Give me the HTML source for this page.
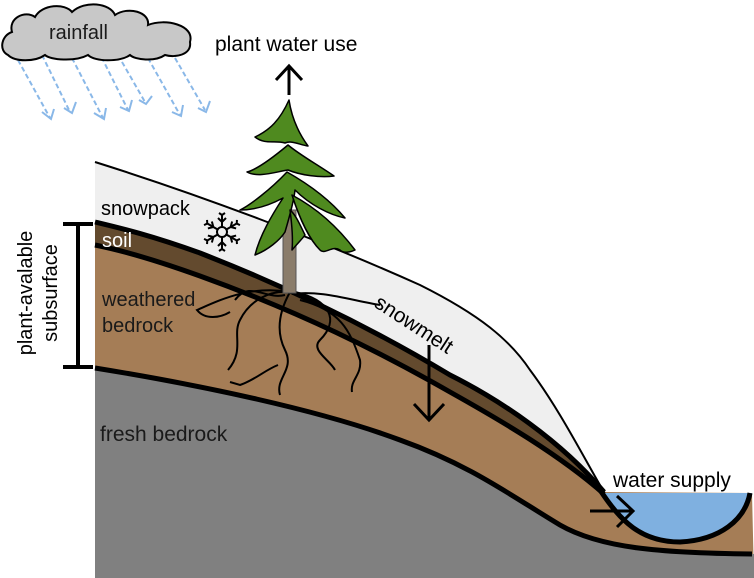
<!DOCTYPE html>
<html><head><meta charset="utf-8"><style>
html,body{margin:0;padding:0;background:#fff;}
svg{display:block;font-family:"Liberation Sans","DejaVu Sans",sans-serif;}
</style></head><body>
<svg width="754" height="578" viewBox="0 0 754 578" xmlns="http://www.w3.org/2000/svg">
<path d="M95,162 C200,195 320,240 420,285 C480,315 510,340 530,370 C560,410 585,460 604,492 L600,490 C560,440 500,400 450,375 C380,333 300,292 200,253 C150,235 120,228 95,222 Z" fill="#efefef"/>
<path d="M95,162 C200,195 320,240 420,285 C480,315 510,340 530,370 C560,410 585,460 604,492" fill="none" stroke="#000" stroke-width="2"/>
<path d="M95,222 C120,228 150,235 200,253 C300,292 380,333 450,375 C500,400 560,440 604,492 L752,493 L754,578 L95,578 Z" fill="#a57d56"/>
<path d="M95,222 C120,228 150,235 200,253 C300,292 380,333 450,375 C500,400 560,440 604,492 C560,455 500,420 450,392 C380,352 300,312 200,276 C150,258 120,250 95,245 Z" fill="#634a2e"/>
<path d="M95,222 C120,228 150,235 200,253 C300,292 380,333 450,375 C500,400 560,440 604,492" fill="none" stroke="#000" stroke-width="5"/>
<path d="M95,245 C120,250 150,258 200,276 C300,312 380,352 450,392 C500,420 560,455 604,494" fill="none" stroke="#000" stroke-width="5"/>
<path d="M95,368 C200,385 320,410 400,440 C470,465 510,495 560,525 C600,548 660,553 754,554 L754,578 L95,578 Z" fill="#808080"/>
<path d="M95,368 C200,385 320,410 400,440 C470,465 510,495 560,525 C600,548 660,553 752,554" fill="none" stroke="#000" stroke-width="5"/>
<path d="M605,493 L752,493 C748,520 720,540 680,542 C640,542 620,520 605,493 Z" fill="#7fb0e0"/>
<path d="M600,490 C620,520 640,542 680,542 C720,540 745,520 750,493" fill="none" stroke="#000" stroke-width="5"/>
<path d="M590,511 L632,511 M617,496 L633,511 L617,527" fill="none" stroke="#000" stroke-width="3"/>
<text x="613" y="487" font-size="21">water supply</text>
<text x="0" y="0" font-size="21" transform="translate(373,306) rotate(33)">snowmelt</text>
<path d="M429,345 L429,418 M414,404 L429,420 L444,404" fill="none" stroke="#000" stroke-width="3"/>
<g fill="none" stroke="#000" stroke-width="2">
<path d="M290,292 C270,290 250,300 240,320 C232,335 245,350 228,370"/>
<path d="M290,292 C280,310 275,330 285,350 C295,370 275,378 280,395"/>
<path d="M285,295 C265,300 250,280 235,300 M290,292 C250,285 220,300 197,310 C205,320 220,318 230,312"/>
<path d="M278,365 C265,370 255,380 240,385 L230,382"/>
<path d="M295,292 C330,300 340,320 320,340 C310,350 330,360 335,370"/>
<path d="M300,300 C340,310 350,330 360,360 C362,375 350,380 352,392"/>
<path d="M292,294 C320,290 350,300 380,305"/>
</g>
<rect x="283" y="210" width="13" height="83" fill="#8a7c6a" stroke="#555" stroke-width="1"/>
<g fill="#4f8a1f" stroke="#000" stroke-width="1.5" stroke-linejoin="round">
<path d="M289,100 C280,120 270,130 255,137 C265,145 275,140 285,143 C292,140 300,145 308,146 C300,135 292,120 289,100 Z"/>
<path d="M288,145 C270,160 255,170 247,172 C258,178 275,172 288,170 C300,175 320,178 334,176 C318,165 300,155 288,145 Z"/>
<path d="M287,172 C270,190 250,205 240,210 C255,210 270,205 283,198 C272,215 260,235 255,255 C268,250 280,240 285,232 C290,215 294,200 295,190 C310,205 330,215 345,218 C330,200 310,185 287,172 Z"/>
<path d="M292,195 C300,220 310,240 320,250 C325,255 332,245 340,250 C345,255 355,250 355,250 C340,230 320,210 292,195 Z"/>
<path d="M290,210 C292,225 293,240 292,250 C298,243 303,238 305,235 C300,225 296,215 290,210 Z"/>
</g>
<path d="M289,95 L289,67 M276,80 L289,66 L302,80" fill="none" stroke="#000" stroke-width="3"/>
<text x="215" y="51" font-size="21">plant water use</text>
<g transform="translate(222,232)" stroke="#000" stroke-width="2" fill="none">
<circle r="5"/>
<g id="arm"><path d="M0,-5 L0,-17 M-4,-14 L0,-10 L4,-14 M-3,-19 L0,-17 L3,-19"/></g>
<use href="#arm" transform="rotate(60)"/><use href="#arm" transform="rotate(120)"/><use href="#arm" transform="rotate(180)"/><use href="#arm" transform="rotate(240)"/><use href="#arm" transform="rotate(300)"/>
</g>
<text x="101" y="215" font-size="20">snowpack</text>
<text x="102" y="247" font-size="20" fill="#fff">soil</text>
<text x="102" y="306" font-size="20" fill="#1a1a1a">weathered</text>
<text x="102" y="332" font-size="20" fill="#1a1a1a">bedrock</text>
<text x="100" y="441" font-size="21" fill="#1a1a1a">fresh bedrock</text>
<path d="M63,224 L93,224 M78,224 L78,367 M63,367 L93,367" fill="none" stroke="#000" stroke-width="4"/>
<text transform="translate(32,293) rotate(-90)" font-size="20" text-anchor="middle">plant-avalable</text>
<text transform="translate(57,293) rotate(-90)" font-size="20" text-anchor="middle">subsurface</text>
<g stroke="#8ab8e8" stroke-width="2" fill="none">
<g stroke-dasharray="5,3">
<path d="M18,60 L50,118"/><path d="M42,55 L70,112"/><path d="M72,58 L103,118"/><path d="M98,50 L128,110"/><path d="M118,55 L145,102"/><path d="M148,58 L180,115"/><path d="M175,58 L205,110"/>
</g>
<path d="M42,112 L51,119 L54,109 M64,108 L72,113 L76,102 M94,113 L104,119 L106,108 M120,107 L129,111 L132,100 M139,100 L146,104 L152,96 M172,112 L181,116 L183,105 M198,108 L206,112 L210,101"/>
</g>
<path d="M8,55 C-2,50 2,35 12,32 C8,18 25,10 35,17 C42,4 65,3 72,12 C85,0 110,3 115,15 C128,6 150,12 148,25 C165,18 195,25 190,42 C192,55 175,58 165,55 C155,62 135,60 130,55 C120,62 95,62 88,55 C75,62 50,60 45,55 C35,62 15,62 8,55 Z" fill="#c8c8c8" stroke="#000" stroke-width="2"/>
<text x="49" y="39" font-size="20" fill="#1a1a1a">rainfall</text>
</svg>
</body></html>
